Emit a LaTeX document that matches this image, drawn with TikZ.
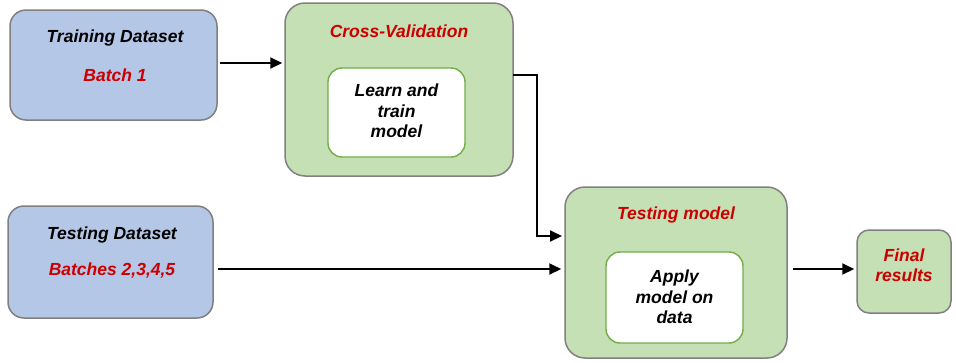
\documentclass[tikz,border=0pt]{standalone}
\usepackage{fontspec}
\setmainfont{Liberation Sans}
\usetikzlibrary{arrows.meta}
\definecolor{bluefill}{HTML}{B4C7E7}
\definecolor{greenfill}{HTML}{C5E0B4}
\definecolor{boxline}{HTML}{808080}
\definecolor{innerline}{HTML}{70AD47}
\definecolor{redtext}{HTML}{CC0000}
\tikzset{
  box/.style={draw=boxline, line width=1.5pt, rounded corners=16pt, inner sep=0pt},
  bluebox/.style={box, fill=bluefill},
  greenbox/.style={box, fill=greenfill},
  innerbox/.style={draw=innerline, line width=1.4pt, fill=white, rounded corners=14pt, inner sep=0pt},
  lbl/.style={font=\bfseries\itshape\fontsize{17.5}{20.5}\selectfont, align=center, inner sep=0pt},
  redlbl/.style={lbl, text=redtext},
  arr/.style={line width=2pt, -{Triangle[length=12pt,width=11pt]}},
}
\begin{document}
\begin{tikzpicture}[x=1pt,y=-1pt]
\useasboundingbox (0,0) rectangle (956,362);
% boxes
\node[bluebox, minimum width=207pt, minimum height=110pt] (train) at (113.5,65) {};
\node[greenbox, minimum width=228pt, minimum height=173pt, rounded corners=20pt] (cv) at (399,89.5) {};
\node[innerbox, minimum width=137pt, minimum height=89pt] (learn) at (396.5,112.5) {};
\node[bluebox, minimum width=205pt, minimum height=112pt] (test) at (110.5,262) {};
\node[greenbox, minimum width=222pt, minimum height=171pt, rounded corners=20pt] (tm) at (676,272.5) {};
\node[innerbox, minimum width=137pt, minimum height=91pt] (apply) at (674.5,297.5) {};
\node[greenbox, minimum width=94pt, minimum height=83pt, rounded corners=12pt] (final) at (904,271.5) {};
% texts
\node[lbl] (t1) at (115,38) {Training Dataset};
\node[redlbl] (t2) at (115,75) {Batch 1};
\node[redlbl] (t3) at (399,31) {Cross-Validation};
\node[lbl] (t4) at (396.5,111) {Learn and\\train\\model};
\node[lbl] (t5) at (112,235) {Testing Dataset};
\node[redlbl] (t6) at (112,271) {Batches 2,3,4,5};
\node[redlbl] (t7) at (676,215) {Testing model};
\node[lbl] (t8) at (674.5,297) {Apply\\model on\\data};
\node[redlbl] (t9) at (904,265) {Final\\results};
% connectors
\coordinate (cvout) at (513,75);
\coordinate (bend) at (537,75);
\coordinate (tmin) at (565,236);
\draw[arr, shorten <=2pt, shorten >=2pt] (train.east |- 0,63) -- (cv.west |- 0,63);
\draw[arr, shorten >=3pt] (cvout) -- (bend) |- (tmin);
\draw[arr, shorten <=4pt, shorten >=3pt] (test.east |- 0,269) -- (tm.west |- 0,269);
\draw[arr, shorten <=5pt, shorten >=2pt] (tm.east |- 0,269) -- (final.west |- 0,269);
\end{tikzpicture}
\end{document}
